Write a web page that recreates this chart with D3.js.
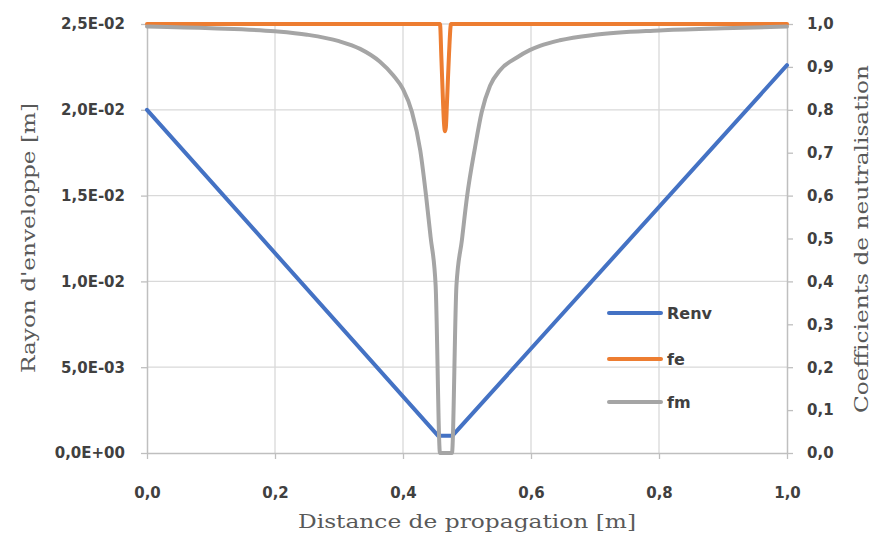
<!DOCTYPE html>
<html>
<head>
<meta charset="utf-8">
<script src="https://cdn.jsdelivr.net/npm/d3@7"></script>
<style>
  html, body { margin: 0; padding: 0; background: #fff; }
  svg { display: block; }
</style>
</head>
<body>
<svg id="chart" width="875" height="538"></svg>
<script>
// ---- Data ----
const renvX = [0, 0.455, 0.477, 1.0];
const renvY = [0.0200, 0.0010, 0.0010, 0.0226];

const feX = [0, 0.455, 0.4578, 0.460, 0.4625, 0.464, 0.4656, 0.467, 0.4688, 0.4719, 0.475, 0.478, 1.0];
const feY = [1.0, 1.0, 1.0, 0.92, 0.82, 0.77, 0.75, 0.76, 0.82, 0.93, 1.0, 1.0, 1.0];

const fmX = [0, 0.1, 0.2, 0.25, 0.3, 0.333, 0.364, 0.385, 0.400, 0.414, 0.427, 0.436, 0.443, 0.451, 0.4578,
             0.4765, 0.4835, 0.492, 0.500, 0.5125, 0.523, 0.536, 0.552, 0.578, 0.598, 0.614, 0.645, 0.7, 0.8, 0.9, 1.0];
const fmY = [0.994, 0.990, 0.983, 0.975, 0.960, 0.942, 0.912, 0.880, 0.848, 0.795, 0.705, 0.600, 0.505, 0.390, 0.0,
             0.0, 0.390, 0.496, 0.597, 0.712, 0.795, 0.856, 0.893, 0.922, 0.939, 0.949, 0.962, 0.975, 0.985, 0.990, 0.994];

const xTicks = [0, 0.2, 0.4, 0.6, 0.8, 1.0];
const yLeftTicks = [0, 0.005, 0.010, 0.015, 0.020, 0.025];
const yLeftLabels = ["0,0E+00", "5,0E-03", "1,0E-02", "1,5E-02", "2,0E-02", "2,5E-02"];
const yRightTicks = [0, 0.1, 0.2, 0.3, 0.4, 0.5, 0.6, 0.7, 0.8, 0.9, 1.0];

const seriesNames = ["Renv", "fe", "fm"];
const seriesColors = ["#4472C4", "#ED7D31", "#A5A5A5"];

// ---- Layout ----
const W = 875, H = 538;
const m = { left: 147, right: 88, top: 24, bottom: 85 };
const iw = W - m.left - m.right, ih = H - m.top - m.bottom;

const svg = d3.select("#chart");
const g = svg.append("g").attr("transform", `translate(${m.left},${m.top})`);

const x = d3.scaleLinear().domain([0, 1]).range([0, iw]);
const yL = d3.scaleLinear().domain([0, 0.025]).range([ih, 0]);
const yR = d3.scaleLinear().domain([0, 1]).range([ih, 0]);

const fmt1 = v => d3.format(".1f")(v).replace(".", ",");

// Gridlines
g.append("g").selectAll("line").data(yLeftTicks.slice(1)).join("line")
  .attr("x1", 0).attr("x2", iw)
  .attr("y1", d => yL(d)).attr("y2", d => yL(d))
  .attr("stroke", "#d9d9d9").attr("stroke-width", 1.3);
g.append("g").selectAll("line").data(xTicks.slice(1, -1)).join("line")
  .attr("y1", 0).attr("y2", ih)
  .attr("x1", d => x(d)).attr("x2", d => x(d))
  .attr("stroke", "#d9d9d9").attr("stroke-width", 1.3);

const tickFont = "'DejaVu Sans', sans-serif";

function styleAxis(sel) {
  sel.select(".domain").attr("stroke", "#bfbfbf").attr("stroke-width", 1.5);
  sel.selectAll(".tick line").attr("stroke", "#bfbfbf").attr("stroke-width", 1.3);
  sel.selectAll(".tick text")
    .attr("fill", "#404040")
    .style("font-family", tickFont)
    .style("font-size", "15px")
    .style("font-weight", "bold");
}

// Axes
const axB = g.append("g").attr("transform", `translate(0,${ih})`)
  .call(d3.axisBottom(x).tickValues(xTicks).tickFormat(fmt1).tickSize(6).tickSizeOuter(0).tickPadding(28));
styleAxis(axB);

const axL = g.append("g")
  .call(d3.axisLeft(yL).tickValues(yLeftTicks).tickFormat((d, i) => yLeftLabels[i]).tickSize(6).tickSizeOuter(0).tickPadding(16));
styleAxis(axL);

const axR = g.append("g").attr("transform", `translate(${iw},0)`)
  .call(d3.axisRight(yR).tickValues(yRightTicks).tickFormat(fmt1).tickSize(6).tickSizeOuter(0).tickPadding(14));
styleAxis(axR);

// Lines
const lineL = d3.line().x(d => x(d[0])).y(d => yL(d[1]));
const lineR = d3.line().x(d => x(d[0])).y(d => yR(d[1])).curve(d3.curveMonotoneX);

const renv = renvX.map((v, i) => [v, renvY[i]]);
const fe = feX.map((v, i) => [v, feY[i]]);
const fm = fmX.map((v, i) => [v, fmY[i]]);

g.append("path").datum(renv).attr("d", lineL)
  .attr("fill", "none").attr("stroke", seriesColors[0]).attr("stroke-width", 4)
  .attr("stroke-linejoin", "round").attr("stroke-linecap", "round");
g.append("path").datum(fe).attr("d", lineR)
  .attr("fill", "none").attr("stroke", seriesColors[1]).attr("stroke-width", 4)
  .attr("stroke-linejoin", "round").attr("stroke-linecap", "round");
g.append("path").datum(fm).attr("d", lineR)
  .attr("fill", "none").attr("stroke", seriesColors[2]).attr("stroke-width", 4)
  .attr("stroke-linejoin", "round").attr("stroke-linecap", "round");

// Legend
const legendY = [313, 359, 402];
const lg = svg.append("g");
seriesNames.forEach((name, i) => {
  lg.append("line")
    .attr("x1", 609).attr("x2", 661)
    .attr("y1", legendY[i]).attr("y2", legendY[i])
    .attr("stroke", seriesColors[i]).attr("stroke-width", 4).attr("stroke-linecap", "round");
  lg.append("text")
    .attr("x", 667).attr("y", legendY[i]).attr("dy", "0.36em")
    .attr("fill", "#404040")
    .style("font-family", tickFont).style("font-size", "16px").style("font-weight", "bold")
    .text(name);
});

// Axis titles
const titleFont = "'DejaVu Serif', 'Liberation Serif', serif";
svg.append("text")
  .attr("x", 467).attr("y", 528).attr("text-anchor", "middle")
  .attr("fill", "#595959").style("font-family", titleFont).style("font-size", "19px")
  .attr("textLength", 338).attr("lengthAdjust", "spacingAndGlyphs")
  .text("Distance de propagation [m]");

svg.append("text")
  .attr("transform", "translate(35,238) rotate(-90)").attr("text-anchor", "middle")
  .attr("fill", "#595959").style("font-family", titleFont).style("font-size", "19px")
  .attr("textLength", 270).attr("lengthAdjust", "spacingAndGlyphs")
  .text("Rayon d'enveloppe [m]");

svg.append("text")
  .attr("transform", "translate(868,239) rotate(-90)").attr("text-anchor", "middle")
  .attr("fill", "#595959").style("font-family", titleFont).style("font-size", "19px")
  .attr("textLength", 348).attr("lengthAdjust", "spacingAndGlyphs")
  .text("Coefficients de neutralisation");
</script>
</body>
</html>
